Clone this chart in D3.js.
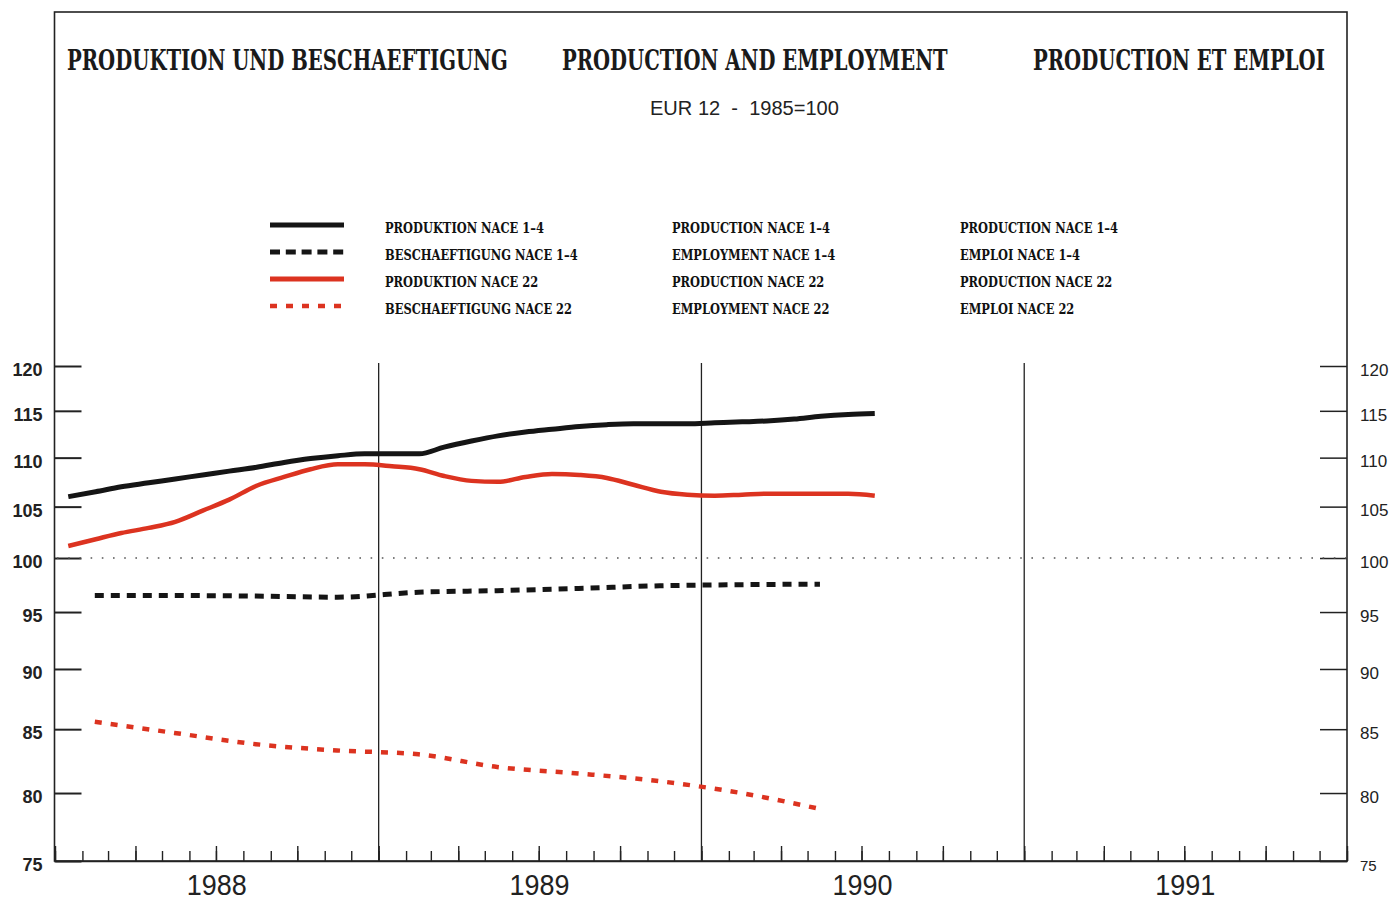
<!DOCTYPE html>
<html><head><meta charset="utf-8">
<script src="https://cdn.jsdelivr.net/npm/d3@7"></script>
<style>body{margin:0;background:#fff}svg{display:block}</style>
</head><body><script>
// ---------- DATA ----------
const titles = ["PRODUKTION UND BESCHAEFTIGUNG", "PRODUCTION AND EMPLOYMENT", "PRODUCTION ET EMPLOI"];
const subtitle = "EUR 12  -  1985=100";
const legendDE = ["PRODUKTION NACE 1–4", "BESCHAEFTIGUNG NACE 1–4", "PRODUKTION NACE 22", "BESCHAEFTIGUNG NACE 22"];
const legendEN = ["PRODUCTION NACE 1–4", "EMPLOYMENT NACE 1–4", "PRODUCTION NACE 22", "EMPLOYMENT NACE 22"];
const legendFR = ["PRODUCTION NACE 1–4", "EMPLOI NACE 1–4", "PRODUCTION NACE 22", "EMPLOI NACE 22"];
const yTicks = [75, 80, 85, 90, 95, 100, 105, 110, 115, 120];
const years = ["1988", "1989", "1990", "1991"];
const months = ["1988-01","1988-02","1988-03","1988-04","1988-05","1988-06","1988-07","1988-08","1988-09","1988-10","1988-11","1988-12",
                "1989-01","1989-02","1989-03","1989-04","1989-05","1989-06","1989-07","1989-08","1989-09","1989-10","1989-11","1989-12",
                "1990-01","1990-02","1990-03","1990-04","1990-05","1990-06","1990-07"];
const quarters = ["1988-Q1","1988-Q2","1988-Q3","1988-Q4","1989-Q1","1989-Q2","1989-Q3","1989-Q4","1990-Q1","1990-Q2"];
const prodNace14 = [106.0,106.5,107.0,107.4,107.8,108.2,108.6,109.0,109.5,109.9,110.2,110.4,
                    110.4,110.4,111.1,111.75,112.3,112.7,113.0,113.3,113.5,113.6,113.6,113.6,
                    113.7,113.8,113.9,114.1,114.4,114.6,114.7];
const prodNace22 = [101.15,101.8,102.4,102.9,103.5,104.6,105.7,107.1,108.0,108.8,109.3,109.3,
                    109.1,108.8,108.1,107.6,107.5,108.0,108.3,108.2,107.9,107.2,106.5,106.2,
                    106.1,106.2,106.3,106.3,106.3,106.3,106.1];
const emplNace14 = [96.5,96.5,96.45,96.35,96.8,96.95,97.15,97.4,97.5,97.55];
const emplNace22 = [85.6,84.7,83.8,83.3,83.0,82.0,81.5,80.9,80.0,78.8];

// ---------- SETUP ----------
const W = 1391, H = 902;
const BLACK = "#151515", RED = "#dc3320";
const svg = d3.select("body").append("svg").attr("width", W).attr("height", H);
const plotL = 55, plotR = 1347, plotT = 12, plotB = 861;

const x = d3.scaleTime().domain([new Date(1988,0,1), new Date(1992,0,1)]).range([plotL, plotR]);
const y = d3.scaleLog().domain([75, 120]).range([plotB, 366]);

const monthDate = s => { const [yy, mm] = s.split("-").map(Number); return new Date(yy, mm - 1, 16); };
const quarterDate = s => { const yy = +s.slice(0,4), q = +s.slice(6); return new Date(yy, (q - 1) * 3 + 1, 15); };

// place a text at (px,py) and squeeze it horizontally to a target width
function fitText(sel, px, py, targetW) {
  const n = sel.node().getComputedTextLength();
  sel.attr("transform", `translate(${px},${py}) scale(${targetW / n},1)`);
  return sel;
}

// ---------- FRAME ----------
svg.append("rect").attr("x", plotL - 0.5).attr("y", plotT).attr("width", plotR - plotL + 0.5).attr("height", plotB - plotT)
  .attr("fill", "none").attr("stroke", "#222").attr("stroke-width", 1.6);

// ---------- TITLES ----------
const titleX = [67, 562, 1033], titleW = [441, 386, 292];
titles.forEach((t, i) => {
  const tt = svg.append("text")
    .style("font-family", "'DejaVu Serif', serif").style("font-weight", "bold").style("font-size", "27px")
    .attr("fill", "#1a1a1a").text(t);
  fitText(tt, titleX[i], 70, titleW[i]);
});

const sub = svg.append("text").style("white-space", "pre")
  .style("font-family", "'Liberation Sans Narrow', 'Liberation Sans', sans-serif").style("font-size", "20px")
  .attr("fill", "#222").text(subtitle);
fitText(sub, 650, 114.5, 189);

// ---------- LEGEND ----------
const series = [
  {color: BLACK, dash: null, width: 5},
  {color: BLACK, dash: "10,5.8", width: 5},
  {color: RED, dash: null, width: 5},
  {color: RED, dash: "7,9", width: 4.5}
];
const legY = [225, 252, 279, 306];
const lg = svg.append("g");
series.forEach((s, i) => {
  lg.append("line").attr("x1", 270).attr("x2", 344).attr("y1", legY[i]).attr("y2", legY[i])
    .attr("stroke", s.color).attr("stroke-width", s.width).attr("stroke-dasharray", s.dash);
});
const legCols = [{x: 385, labels: legendDE}, {x: 672, labels: legendEN}, {x: 960, labels: legendFR}];
const probe = svg.append("text").style("font-family", "'DejaVu Serif', serif").style("font-weight", "bold")
  .style("font-size", "15px").text(legendDE[0]);
const legScale = 159 / probe.node().getComputedTextLength();
probe.remove();
legCols.forEach(c => {
  c.labels.forEach((t, i) => {
    lg.append("text").attr("transform", `translate(${c.x},${legY[i] + 8}) scale(${legScale},1)`)
      .style("font-family", "'DejaVu Serif', serif").style("font-weight", "bold").style("font-size", "15px")
      .attr("fill", "#111").text(t);
  });
});

// ---------- AXES ----------
const yl = svg.append("g").attr("transform", `translate(${plotL - 0.5},0)`)
  .call(d3.axisLeft(y).tickValues(yTicks).tickFormat(d3.format("d")).tickSizeInner(-27).tickSizeOuter(0).tickPadding(12));
yl.select(".domain").remove();
yl.selectAll("line").attr("stroke", "#222").attr("stroke-width", 2);
yl.selectAll("text").attr("dy", "0.52em").style("font-family", "'Liberation Sans', Arial, sans-serif")
  .style("font-size", "18px").style("font-weight", "bold").attr("fill", "#222");

const yr = svg.append("g").attr("transform", `translate(${plotR},0)`)
  .call(d3.axisRight(y).tickValues(yTicks).tickFormat(d3.format("d")).tickSizeInner(-27).tickSizeOuter(0).tickPadding(13));
yr.select(".domain").remove();
yr.selectAll("line").attr("stroke", "#222").attr("stroke-width", 1.5);
yr.selectAll("text").attr("dy", "0.55em").style("font-family", "'Liberation Sans', Arial, sans-serif")
  .style("font-size", "17px").attr("fill", "#222");
yr.selectAll("text").filter(d => d === 75).style("font-size", "15px").attr("dy", "0.65em");

const xm = svg.append("g").attr("transform", `translate(0,${plotB})`)
  .call(d3.axisBottom(x).ticks(d3.timeMonth.every(1)).tickFormat("").tickSizeInner(-10).tickSizeOuter(0));
xm.select(".domain").attr("stroke", "#222").attr("stroke-width", 1.6);
xm.selectAll("line").attr("stroke", "#222").attr("stroke-width", 1.4);
const xq = svg.append("g").attr("transform", `translate(0,${plotB})`)
  .call(d3.axisBottom(x).ticks(d3.timeMonth.every(3)).tickFormat("").tickSizeInner(-15).tickSizeOuter(0));
xq.select(".domain").remove();
xq.selectAll("line").attr("stroke", "#222").attr("stroke-width", 1.4);

svg.append("g").selectAll("line").data(years.slice(1)).join("line")
  .attr("x1", d => x(new Date(+d, 0, 1))).attr("x2", d => x(new Date(+d, 0, 1)))
  .attr("y1", y(120) - 3).attr("y2", plotB).attr("stroke", "#222").attr("stroke-width", 1.3);

years.forEach(yy => {
  const t = svg.append("text").attr("text-anchor", "middle")
    .style("font-family", "'Liberation Sans Narrow', 'Liberation Sans', sans-serif").style("font-size", "30px")
    .attr("fill", "#222").text(yy);
  fitText(t, x(new Date(+yy, 6, 2)), 895, 60);
});

svg.append("line").attr("x1", plotL + 2).attr("x2", plotR).attr("y1", y(100)).attr("y2", y(100))
  .attr("stroke", "#555").attr("stroke-width", 1.6).attr("stroke-dasharray", "1.6,9.6");

// ---------- SERIES ----------
const line = d3.line().x(d => x(d.date)).y(d => y(d.v)).curve(d3.curveMonotoneX);
const mk = (labels, vals, fn) => labels.map((l, i) => ({date: fn(l), v: vals[i]}));
const plotData = [
  {data: mk(quarters, emplNace22, quarterDate), color: RED, dash: "7,9", width: 4.5},
  {data: mk(quarters, emplNace14, quarterDate), color: BLACK, dash: "9,7", width: 5},
  {data: mk(months, prodNace22, monthDate), color: RED, dash: null, width: 4.5},
  {data: mk(months, prodNace14, monthDate), color: BLACK, dash: null, width: 5}
];
svg.append("g").selectAll("path").data(plotData).join("path")
  .attr("d", d => line(d.data)).attr("fill", "none")
  .attr("stroke", d => d.color).attr("stroke-width", d => d.width)
  .attr("stroke-dasharray", d => d.dash).attr("stroke-linejoin", "round");
</script></body></html>
